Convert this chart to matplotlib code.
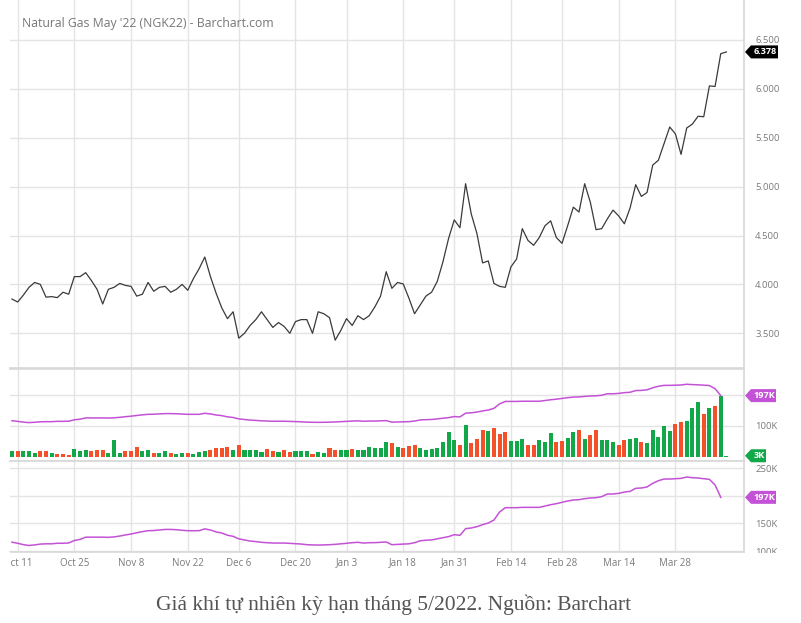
import numpy as np
import pandas as pd
import matplotlib
matplotlib.use("Agg")
import matplotlib.pyplot as plt
from matplotlib.patches import Polygon, Rectangle
from matplotlib.transforms import IdentityTransform

plt.rcParams["font.family"] = ["Open Sans", "DejaVu Sans"]

# trading days (NYMEX holidays removed)
holidays = ["2021-11-25", "2021-12-24", "2022-01-17", "2022-02-21"]
dates = pd.bdate_range("2021-10-08", "2022-04-08", freq="C", holidays=holidays)

tick_dates = ["2021-10-11", "2021-10-25", "2021-11-08", "2021-11-22", "2021-12-06",
              "2021-12-20", "2022-01-03", "2022-01-18", "2022-01-31", "2022-02-14",
              "2022-02-28", "2022-03-14", "2022-03-28"]
tick_labels = ["Oct 11", "Oct 25", "Nov 8", "Nov 22", "Dec 6", "Dec 20", "Jan 3",
               "Jan 18", "Jan 31", "Feb 14", "Feb 28", "Mar 14", "Mar 28"]

# closing price, $/MMBtu
price = [3.85, 3.82, 3.89, 3.97, 4.02, 4.00, 3.87, 3.875, 3.865, 3.92,
         3.90, 4.08, 4.08, 4.12, 4.04, 3.95, 3.80, 3.95, 3.97, 4.01,
         3.99, 3.98, 3.88, 3.90, 4.02, 3.93, 3.97, 3.98, 3.92, 3.95,
         4.00, 3.94, 4.06, 4.16, 4.28, 4.08, 3.91, 3.76, 3.65, 3.72,
         3.45, 3.50, 3.58, 3.64, 3.72, 3.64, 3.56, 3.61, 3.57, 3.50,
         3.62, 3.64, 3.64, 3.50, 3.72, 3.70, 3.66, 3.43, 3.53, 3.65,
         3.58, 3.68, 3.64, 3.68, 3.77, 3.88, 4.13, 3.96, 4.02, 4.005,
         3.86, 3.70, 3.79, 3.88, 3.92, 4.03, 4.23, 4.47, 4.66, 4.58,
         5.03, 4.72, 4.52, 4.22, 4.24, 4.01, 3.98, 3.97, 4.18, 4.26,
         4.57, 4.45, 4.40, 4.48, 4.60, 4.65, 4.48, 4.42, 4.60, 4.79,
         4.74, 5.03, 4.84, 4.56, 4.57, 4.67, 4.76, 4.70, 4.62, 4.78,
         5.02, 4.90, 4.94, 5.22, 5.27, 5.44, 5.61, 5.54, 5.33, 5.60,
         5.64, 5.72, 5.715, 6.03, 6.025, 6.36, 6.378]

# volume, thousands of contracts
volume = [18, 18, 19, 17, 11, 18, 18, 13, 10, 9,
          5, 24, 18, 22, 18, 20, 20, 13, 54, 13,
          18, 18, 30, 18, 22, 11, 13, 17, 13, 8,
          12, 11, 9, 16, 17, 23, 27, 27, 30, 22,
          39, 23, 20, 20, 14, 24, 18, 14, 20, 14,
          17, 17, 17, 10, 14, 12, 27, 20, 23, 23,
          26, 22, 22, 30, 27, 27, 46, 44, 30, 27,
          33, 38, 27, 20, 25, 29, 49, 81, 53, 39,
          103, 43, 56, 86, 82, 91, 72, 81, 52, 52,
          56, 38, 38, 53, 48, 76, 48, 51, 60, 80,
          85, 58, 70, 86, 53, 53, 49, 38, 55, 58,
          59, 46, 45, 85, 62, 98, 83, 104, 111, 116,
          158, 176, 137, 156, 165, 197, 3]

# g = up bar, r = down bar
updown = ("grgggrrgrr" "rgggrrrggg" "rrrggrggrg" "grgggrrrrg" "rggggrrgrr"
          "gggrggrrgg" "rggggggrgr" "rrgggggggr" "grrrgrrrgg" "grrgggrrgg"
          "rgrrgggrrg" "grgggggrrg" "ggrgrgg")

# open interest, thousands
open_interest = [116, 114, 111.5, 110, 111, 112.5, 113, 113, 114, 114,
                 114.5, 119, 121, 125, 125, 125, 125, 124.7, 125.5, 127,
                 129, 130.7, 133, 135, 136.7, 137, 138, 139, 139, 138.5,
                 137.5, 136.7, 136.7, 136.7, 140, 138, 134.5, 132.5, 128.5, 126.5,
                 122, 120, 118, 117, 115.7, 115, 114.4, 114.4, 114.4, 113.8,
                 113.2, 112.6, 111.4, 111, 110.8, 111, 111.4, 112, 113, 113.9,
                 115, 115.7, 114.4, 115, 115.1, 115.7, 116.3, 111.4, 112, 112.5,
                 113, 115, 118.5, 119.5, 120, 122, 124, 126, 129.5, 128.3,
                 140.4, 141.6, 144, 147.6, 150.6, 156, 170.5, 178.3, 178.3, 178.3,
                 178.9, 178.9, 178.9, 178.9, 181.3, 183.7, 185.5, 188, 190.4, 192.2,
                 192.8, 194.6, 195.8, 196.4, 198.2, 203, 203, 204.2, 206.6, 207.8,
                 213.3, 213.9, 215.7, 222.3, 227.1, 230.1, 230.1, 230.7, 231.3, 233.7,
                 232.5, 231.9, 230.7, 229.5, 219.3, 197]

W, H = 801, 623
GREEN, RED, PURPLE = "#12a84a", "#f4502a", "#c452d6"
GRID = "#e4e4e4"
LABEL = "#7a7a7a"

x = np.arange(len(dates))
ticks = [dates.get_loc(pd.Timestamp(d)) for d in tick_dates]


def rect(left, top, right, bottom):
    return [left / W, 1 - bottom / H, (right - left) / W, (bottom - top) / H]


fig = plt.figure(figsize=(W / 100, H / 100), dpi=100)
ax1 = fig.add_axes(rect(10, 0, 744, 368))
ax2 = fig.add_axes(rect(10, 369, 744, 461))
ax3 = fig.add_axes(rect(10, 461, 744, 552))

for ax in (ax1, ax2, ax3):
    ax.set_xlim(-0.35, 129.1)
    ax.set_xticks(ticks)
    ax.grid(True, color=GRID, lw=1)
    ax.set_axisbelow(True)
    ax.yaxis.tick_right()
    ax.tick_params(length=0, labelsize=6.8, labelcolor=LABEL, pad=8)
    ax.spines["left"].set_visible(False)
    for s in ("top", "bottom", "right"):
        ax.spines[s].set_color("#d8d8d8")
        ax.spines[s].set_linewidth(1.2)
ax1.spines["top"].set_visible(False)
ax1.tick_params(labelbottom=False)
ax2.tick_params(labelbottom=False)
ax3.set_xticklabels(tick_labels)
ax3.tick_params(axis="x", labelsize=7, pad=4)

# price panel
ax1.plot(x, price, color="#3a3a3a", lw=0.9)
ax1.set_ylim(3.145, 6.909)
yt = [3.5, 4.0, 4.5, 5.0, 5.5, 6.0, 6.5]
ax1.set_yticks(yt)
ax1.set_yticklabels([f"{v:.3f}" for v in yt])
ax1.text(22, H - 24, "Natural Gas May '22 (NGK22) - Barchart.com", transform=IdentityTransform(),
         fontsize=8.8, color="#777777", va="center")

# volume panel
bar_colors = [GREEN if c == "g" else RED for c in updown]
ax2.bar(x, volume, width=0.72, color=bar_colors)
ax2.plot(x[:len(open_interest)], open_interest, color=PURPLE, lw=1.1)
ax2.set_ylim(-13.9, 282.9)
ax2.set_yticks([100, 200])
ax2.set_yticklabels(["100K", ""])

# open interest panel
ax3.plot(x[:len(open_interest)], open_interest, color=PURPLE, lw=1.1)
ax3.set_ylim(98.2, 262.7)
ax3.set_yticks([100, 150, 200, 250])
ax3.set_yticklabels(["100K", "150K", "", "250K"])

fig.canvas.draw()


def tag(ax, value, text, color, right):
    y = ax.transData.transform((0, value))[1]
    pts = [(745, y), (751, y + 6.5), (right, y + 6.5), (right, y - 6.5), (751, y - 6.5)]
    fig.add_artist(Polygon(pts, closed=True, facecolor=color, edgecolor="none",
                           transform=IdentityTransform(), zorder=20))
    fig.text((751 + right) / 2 + 0.5, y, text, transform=IdentityTransform(), color="white",
             fontsize=6.6, fontweight="bold", ha="center", va="center", zorder=21)


tag(ax1, price[-1], f"{price[-1]:.3f}", "black", 778)
tag(ax2, open_interest[-1], f"{open_interest[-1]:.0f}K", PURPLE, 776)
tag(ax2, volume[-1], f"{volume[-1]}K", GREEN, 766)
tag(ax3, open_interest[-1], f"{open_interest[-1]:.0f}K", PURPLE, 776)

# clip edges like the screenshot
fig.add_artist(Rectangle((0, 1 - 572 / H), 10 / W, 20 / H, transform=fig.transFigure,
                         facecolor="white", edgecolor="none", zorder=30))
fig.add_artist(Rectangle((746 / W, 1 - 560 / H), 50 / W, 7 / H, transform=fig.transFigure,
                         facecolor="white", edgecolor="none", zorder=30))

fig.text(394 / W, 1 - 605 / H, "Giá khí tự nhiên kỳ hạn tháng 5/2022. Nguồn: Barchart",
         family=["Liberation Serif", "DejaVu Serif"], fontsize=15.5, color="#555555",
         ha="center", va="center")

fig.savefig("out.png", dpi=100)
